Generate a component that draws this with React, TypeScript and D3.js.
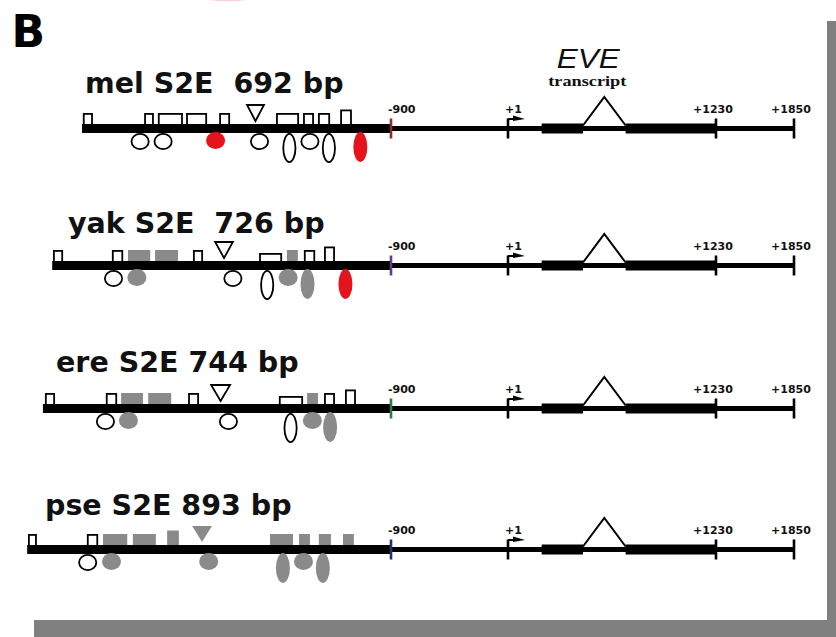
import React from 'react';
import * as d3 from 'd3';

// ---- data ----------------------------------------------------------------
type Status = 'plain' | 'shaded' | 'highlight';
type TopKind = 'box' | 'tall' | 'low' | 'tri';
type BottomKind = 'round' | 'long';
type TopSite = [number, number, TopKind, Status]; // start, end (bp relative to +1), kind, status
type BottomSite = [number, BottomKind, Status]; // centre (bp), kind, status

const species = ['mel', 'yak', 'ere', 'pse'];
const titles = ['mel S2E  692 bp', 'yak S2E  726 bp', 'ere S2E 744 bp', 'pse S2E 893 bp'];
const enhancerStarts = [-1666, -1740, -1763, -1802];
const enhancerEnd = -900;

const melTop: TopSite[] = [
  [-1664, -1639, 'box', 'plain'],
  [-1512, -1488, 'box', 'plain'],
  [-1478, -1416, 'box', 'plain'],
  [-1408, -1356, 'box', 'plain'],
  [-1326, -1299, 'box', 'plain'],
  [-1257, -1215, 'tri', 'plain'],
  [-1185, -1128, 'box', 'plain'],
  [-1118, -1091, 'box', 'plain'],
  [-1081, -1051, 'box', 'plain'],
  [-1026, -997, 'tall', 'plain'],
];
const melBottom: BottomSite[] = [
  [-1522, 'round', 'plain'],
  [-1465, 'round', 'plain'],
  [-1335, 'round', 'highlight'],
  [-1226, 'round', 'plain'],
  [-1152, 'long', 'plain'],
  [-1101, 'round', 'plain'],
  [-1054, 'long', 'plain'],
  [-976, 'long', 'highlight'],
];

const yakTop: TopSite[] = [
  [-1738, -1713, 'box', 'plain'],
  [-1592, -1564, 'box', 'plain'],
  [-1552, -1497, 'box', 'shaded'],
  [-1485, -1428, 'box', 'shaded'],
  [-1391, -1366, 'box', 'plain'],
  [-1336, -1292, 'tri', 'plain'],
  [-1227, -1170, 'low', 'plain'],
  [-1158, -1131, 'box', 'shaded'],
  [-1116, -1088, 'box', 'plain'],
  [-1066, -1039, 'tall', 'plain'],
];
const yakBottom: BottomSite[] = [
  [-1588, 'round', 'plain'],
  [-1530, 'round', 'shaded'],
  [-1292, 'round', 'plain'],
  [-1207, 'long', 'plain'],
  [-1155, 'round', 'shaded'],
  [-1107, 'long', 'shaded'],
  [-1013, 'long', 'highlight'],
];

const ereTop: TopSite[] = [
  [-1758, -1733, 'box', 'plain'],
  [-1607, -1579, 'box', 'plain'],
  [-1569, -1515, 'box', 'shaded'],
  [-1502, -1445, 'box', 'shaded'],
  [-1403, -1376, 'box', 'plain'],
  [-1346, -1299, 'tri', 'plain'],
  [-1178, -1118, 'low', 'plain'],
  [-1108, -1081, 'box', 'shaded'],
  [-1066, -1039, 'box', 'plain'],
  [-1014, -987, 'tall', 'plain'],
];
const ereBottom: BottomSite[] = [
  [-1608, 'round', 'plain'],
  [-1551, 'round', 'shaded'],
  [-1303, 'round', 'plain'],
  [-1149, 'long', 'plain'],
  [-1095, 'round', 'shaded'],
  [-1051, 'long', 'shaded'],
];

const pseTop: TopSite[] = [
  [-1800, -1778, 'box', 'plain'],
  [-1654, -1626, 'box', 'plain'],
  [-1614, -1554, 'box', 'shaded'],
  [-1540, -1483, 'box', 'shaded'],
  [-1455, -1426, 'tall', 'shaded'],
  [-1393, -1344, 'tri', 'shaded'],
  [-1200, -1143, 'box', 'shaded'],
  [-1128, -1101, 'box', 'shaded'],
  [-1079, -1049, 'box', 'shaded'],
  [-1019, -992, 'box', 'shaded'],
];
const pseBottom: BottomSite[] = [
  [-1652, 'round', 'plain'],
  [-1593, 'round', 'shaded'],
  [-1352, 'round', 'shaded'],
  [-1168, 'long', 'shaded'],
  [-1117, 'round', 'shaded'],
  [-1069, 'long', 'shaded'],
];

const topSites = [melTop, yakTop, ereTop, pseTop];
const bottomSites = [melBottom, yakBottom, ereBottom, pseBottom];

const tickValues = [-900, 1, 1230, 1850];
const tickLabels = ['-900', '+1', '+1230', '+1850'];
const exons: [number, number][] = [
  [200, 444],
  [696, 1230],
];

// ---- layout & style ------------------------------------------------------
const W = 836;
const H = 637;
const rowY = [128.5, 265.5, 408.5, 549.5];
const titleX = [85, 68, 56, 45];
const titleY = [93, 233, 372, 515];
const boundaryColors = ['#8b2b2b', '#5b3f8a', '#2f7a45', '#27306b'];

const fillFor: Record<Status, string> = {
  plain: '#ffffff',
  shaded: '#8a8a8a',
  highlight: '#e5131b',
};
const topHeight: Record<string, number> = { box: 11, tall: 14.5, low: 8 };
const radii: Record<BottomKind, [number, number]> = { round: [9.5, 8.5], long: [7, 15] };

const x = d3
  .scaleLinear()
  .domain([-1800, -900, 1, 1230, 1850])
  .range([28, 391, 508, 716, 794]);

const BAR_HALF = 4.5;
const LINE_HALF = 2.5;
const EXON_HALF = 5;
const SW = 1.8;
const sans = 'DejaVu Sans, Verdana, sans-serif';

function Row({ i }: { i: number }) {
  const c = rowY[i];
  const barTop = c - BAR_HALF;
  const barBottom = c + BAR_HALF;
  const x1 = x(exons[0][1]);
  const x2 = x(exons[1][0]);
  const peakX = (x1 + x2) / 2;
  const tss = x(1);

  const triPath = d3.line();

  return (
    <g>
      <text
        x={titleX[i]}
        y={titleY[i]}
        fontFamily={sans}
        fontWeight="bold"
        fontSize={28.5}
        fill="#111"
        style={{ whiteSpace: 'pre' }}
      >
        {titles[i]}
      </text>

      {/* gene line downstream of the enhancer */}
      <rect
        x={x(enhancerEnd)}
        y={c - LINE_HALF}
        width={x(1850) - x(enhancerEnd)}
        height={LINE_HALF * 2}
        fill="#000"
      />
      {exons.map(([a, b], k) => (
        <rect key={k} x={x(a)} y={c - EXON_HALF} width={x(b) - x(a)} height={EXON_HALF * 2} fill="#000" />
      ))}
      <path
        d={triPath([
          [x1, c - 3],
          [peakX, c - 31.5],
          [x2, c - 3],
        ]) as string}
        fill="none"
        stroke="#000"
        strokeWidth={2}
        strokeLinejoin="miter"
      />

      {/* enhancer */}
      <rect
        x={x(enhancerStarts[i])}
        y={barTop}
        width={x(enhancerEnd) - x(enhancerStarts[i])}
        height={BAR_HALF * 2}
        fill="#000"
      />

      {/* ticks and coordinates */}
      {tickValues.map((v, k) => (
        <g key={v}>
          <line
            x1={x(v)}
            x2={x(v)}
            y1={c - 10}
            y2={c + 10}
            stroke={v === enhancerEnd ? boundaryColors[i] : '#000'}
            strokeWidth={2.6}
          />
          <text
            x={x(v) - 3}
            y={c - 16}
            textAnchor={v <= 1 ? 'start' : 'middle'}
            fontFamily={sans}
            fontWeight="bold"
            fontSize={11}
            fill="#111"
          >
            {tickLabels[k]}
          </text>
        </g>
      ))}

      {/* transcription start arrow */}
      <line x1={tss} x2={tss + 8} y1={c - 9.5} y2={c - 9.5} stroke="#000" strokeWidth={2} />
      <path
        d={triPath([
          [tss + 5, c - 13],
          [tss + 17, c - 9.5],
          [tss + 5, c - 7.5],
        ]) + 'Z'}
        fill="#000"
      />

      {/* sites above the enhancer */}
      {topSites[i].map(([a, b, kind, status], k) => {
        const xa = x(a);
        const xb = x(b);
        const fill = fillFor[status];
        const stroke = status === 'plain' ? '#000' : 'none';
        if (kind === 'tri') {
          const top = barTop - 19;
          const apex = barTop - 3;
          return (
            <path
              key={k}
              d={triPath([
                [xa, top],
                [xb, top],
                [(xa + xb) / 2, apex],
              ]) + 'Z'}
              fill={fill}
              stroke={stroke}
              strokeWidth={SW}
              strokeLinejoin="miter"
            />
          );
        }
        const h = topHeight[kind];
        return (
          <rect
            key={k}
            x={xa + (status === 'plain' ? SW / 2 : 0)}
            y={barTop - h + (status === 'plain' ? SW / 2 : 0)}
            width={xb - xa - (status === 'plain' ? SW : 0)}
            height={h}
            fill={fill}
            stroke={stroke}
            strokeWidth={SW}
          />
        );
      })}

      {/* sites below the enhancer */}
      {bottomSites[i].map(([p, kind, status], k) => {
        const [rx, ry] = radii[kind];
        return (
          <ellipse
            key={k}
            cx={x(p)}
            cy={barBottom + ry - (status === 'plain' ? 0 : 1)}
            rx={rx - (status === 'plain' ? SW / 2 : 0)}
            ry={ry - (status === 'plain' ? SW / 2 : 0)}
            fill={fillFor[status]}
            stroke={status === 'plain' ? '#000' : 'none'}
            strokeWidth={SW}
          />
        );
      })}
    </g>
  );
}

export default function App() {
  const c0 = rowY[0];
  const peakX = (x(exons[0][1]) + x(exons[1][0])) / 2;
  return (
    <svg
      width={W}
      height={H}
      viewBox={`0 0 ${W} ${H}`}
      style={{ position: 'absolute', left: 0, top: 0, display: 'block', background: '#fff' }}
    >
      <rect x={0} y={0} width={W} height={H} fill="#fff" />
      {/* edge of the neighbouring panel */}
      <ellipse cx={228} cy={-5} rx={28} ry={6.5} fill="#f3a0a0" opacity={0.45} />

      <text x={11.5} y={47} fontFamily={sans} fontWeight="bold" fontSize={44} fill="#000">
        B
      </text>

      <text
        x={peakX - 16}
        y={c0 - 61}
        textAnchor="middle"
        fontFamily="Liberation Sans, Arial, sans-serif"
        fontStyle="italic"
        fontSize={27.5}
        fill="#111"
        textLength={63}
        lengthAdjust="spacingAndGlyphs"
      >
        EVE
      </text>
      <text
        x={peakX - 17}
        y={c0 - 42.5}
        textAnchor="middle"
        fontFamily="Liberation Serif, Times New Roman, serif"
        fontWeight="bold"
        fontSize={14}
        fill="#111"
        textLength={78}
        lengthAdjust="spacingAndGlyphs"
      >
        transcript
      </text>

      {species.map((s, i) => (
        <Row key={s} i={i} />
      ))}

      {/* drop shadow of the panel frame */}
      <rect x={827} y={21} width={W - 827} height={H - 21} fill="#808080" />
      <rect x={34} y={620} width={W - 34} height={H - 620} fill="#808080" />
    </svg>
  );
}
